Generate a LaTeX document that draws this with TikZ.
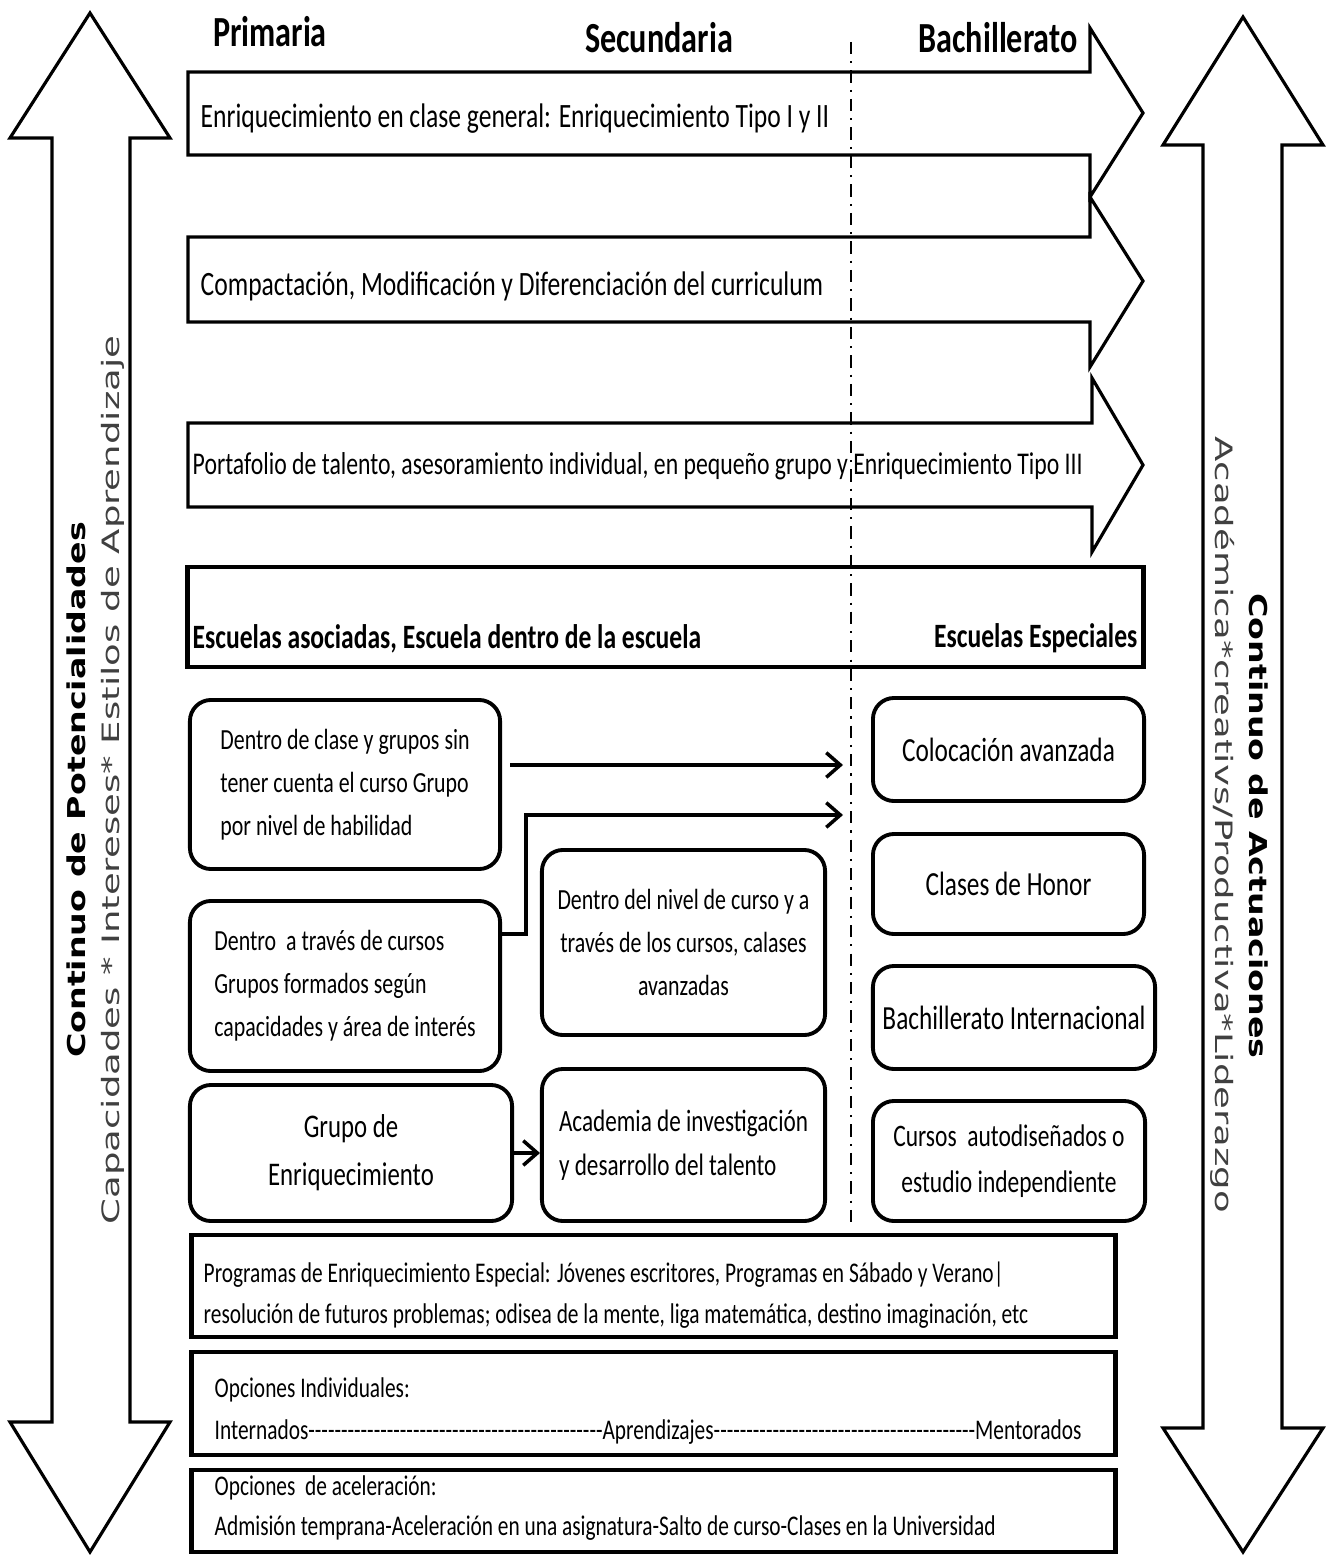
\documentclass[tikz,border=0pt]{standalone}
\usepackage{fontspec}
\setmainfont[FakeStretch=0.75,Ligatures=TeXOff]{Carlito}
\newfontfamily\sidefont[FakeStretch=1.35]{DejaVu Sans}
\newfontfamily\sidelight[FakeStretch=1.55]{DejaVu Sans}
\usetikzlibrary{arrows.meta}

\begin{document}
\begin{tikzpicture}[x=0.01cm,y=-0.01cm,
  outline/.style={draw=black,line width=0.9pt,fill=white,line join=miter},
  band/.style={draw=black,line width=1.3pt,inner sep=0pt},
  levelbox/.style={draw=black,line width=1.1pt,rounded corners=6pt,align=center,inner sep=0pt,font=\fontsize{8.3}{12.2}\selectfont},
  header/.style={anchor=base,inner sep=0pt,font=\bfseries\fontsize{12.2}{14}\selectfont},
  rowtext/.style={anchor=base west,inner sep=0pt,font=\fontsize{9.7}{12}\selectfont},
  bandtext/.style={anchor=base west,inner sep=0pt,font=\fontsize{8.1}{12}\selectfont},
  sidemain/.style={inner sep=0pt,font=\sidefont\bfseries\fontsize{7}{8}\selectfont},
  sidesub/.style={inner sep=0pt,text=black!75,font=\sidelight\fontsize{6.8}{8}\selectfont},
  link/.style={line width=1pt,-{Straight Barb[length=4pt,width=7pt,line width=1pt]}}]
\useasboundingbox (0,0) rectangle (1328,1555);

\draw[outline] (90,13) -- (170,138) -- (130,138) -- (130,1422) -- (170,1422) -- (90,1552)
  -- (10,1422) -- (52,1422) -- (52,138) -- (10,138) -- cycle;
\draw[outline] (1243,17) -- (1323,145) -- (1282,145) -- (1282,1428) -- (1323,1428) -- (1243,1552)
  -- (1163,1428) -- (1203,1428) -- (1203,145) -- (1163,145) -- cycle;

\draw[outline] (188,72) -- (1090,72) -- (1090,28) -- (1143,113) -- (1090,197) -- (1090,155) -- (188,155) -- cycle;
\draw[outline] (188,237) -- (1090,237) -- (1090,197) -- (1143,281) -- (1090,367) -- (1090,322) -- (188,322) -- cycle;
\draw[outline] (188,423) -- (1092,423) -- (1092,378) -- (1143,465) -- (1092,552) -- (1092,507) -- (188,507) -- cycle;

\node[band,minimum width=9.55cm,minimum height=1cm] (escuelas) at (665.5,617) {};

\draw[line width=0.6pt,dash pattern=on 3.5pt off 2pt on 0.6pt off 2pt] (851,42) -- (851,1222);

\node[header] (primaria) at (270,47) {Primaria};
\node[header] (secundaria) at (659,53) {Secundaria};
\node[header] (bachillerato) at (998,53) {Bachillerato};

\node[rowtext] (tipouno) at (200,128) {Enriquecimiento en clase general: Enriquecimiento Tipo I y II};
\node[rowtext] (compacta) at (200,296) {Compactación, Modificación y Diferenciación del curriculum};
\node[rowtext,font=\fontsize{9}{12}\selectfont] (portafolio) at (192,475) {Portafolio de talento, asesoramiento individual, en pequeño grupo y Enriquecimiento Tipo III};
\node[rowtext,font=\bfseries\fontsize{9.7}{12}\selectfont] (asociadas) at (192,648) {Escuelas asociadas, Escuela dentro de la escuela};
\node[rowtext,anchor=base east,font=\bfseries\fontsize{9.7}{12}\selectfont] (especiales) at (1138,647) {Escuelas Especiales};

\node[sidemain,rotate=90] (potencial) at (76,790) {Continuo de Potencialidades};
\node[sidesub,rotate=90] (capacidades) at (113,780) {Capacidades * Intereses* Estilos de Aprendizaje};
\node[sidemain,rotate=-90] (actuacion) at (1259,826) {Continuo de Actuaciones};
\node[sidesub,rotate=-90] (academica) at (1223,825) {Académica*creativs/Productiva*Liderazgo};

\node[levelbox,align=left,minimum width=3.1cm,minimum height=1.69cm] (clase) at (345,784.5) {Dentro de clase y grupos sin\\tener cuenta el curso Grupo\\por nivel de habilidad};
\node[levelbox,align=left,minimum width=3.1cm,minimum height=1.7cm] (cursos) at (345,986) {Dentro\ \ a través de cursos\\Grupos formados según\\capacidades y área de interés};
\node[levelbox,minimum width=3.22cm,minimum height=1.36cm,font=\fontsize{9.4}{13.7}\selectfont] (grupo) at (351,1153) {Grupo de\\Enriquecimiento};
\node[levelbox,minimum width=2.83cm,minimum height=1.85cm] (nivel) at (683.5,942.5) {Dentro del nivel de curso y a\\través de los cursos, calases\\avanzadas};
\node[levelbox,align=left,minimum width=2.83cm,minimum height=1.52cm,font=\fontsize{8.8}{12.5}\selectfont] (academia) at (683.5,1145) {Academia de investigación\\y desarrollo del talento};

\node[levelbox,minimum width=2.71cm,minimum height=1.03cm,font=\fontsize{9.6}{12}\selectfont] (colocacion) at (1008.5,749.5) {Colocación avanzada};
\node[levelbox,minimum width=2.71cm,minimum height=1cm,font=\fontsize{9.6}{12}\selectfont] (honor) at (1008.5,884) {Clases de Honor};
\node[levelbox,minimum width=2.82cm,minimum height=1.03cm,font=\fontsize{9.6}{12}\selectfont] (internacional) at (1014,1017.5) {Bachillerato Internacional};
\node[levelbox,minimum width=2.72cm,minimum height=1.2cm,font=\fontsize{8.9}{13}\selectfont] (autodisenados) at (1009,1161) {Cursos\ \ autodiseñados o\\estudio independiente};

\coordinate (fromclase) at (510,765);
\coordinate (toadv1) at (843,765);
\coordinate (fromcursos) at (500,934);
\coordinate (toadv2) at (843,815);
\draw[link] (fromclase) -- (toadv1);
\draw[link] (fromcursos) -- ++(26,0) |- (toadv2);
\draw[link] (grupo.east) -- (grupo.east -| academia.west);

\node[band,minimum width=9.23cm,minimum height=1.02cm] (programas) at (653.5,1286) {};
\node[bandtext] (programasa) at (203,1282) {Programas de Enriquecimiento Especial: Jóvenes escritores, Programas en Sábado y Verano|};
\node[bandtext] (programasb) at (203,1323) {resolución de futuros problemas; odisea de la mente, liga matemática, destino imaginación, etc};

\node[band,minimum width=9.23cm,minimum height=1.03cm] (individuales) at (653.5,1403.5) {};
\node[bandtext] (individualesa) at (214,1397) {Opciones Individuales:};
\node[bandtext] (individualesb) at (214,1439) {Internados---------------------------------------------Aprendizajes----------------------------------------Mentorados};

\node[band,minimum width=9.23cm,minimum height=0.82cm] (aceleracion) at (653.5,1511) {};
\node[bandtext] (aceleraciona) at (214,1495) {Opciones\ \ de aceleración:};
\node[bandtext] (aceleracionb) at (214,1535) {Admisión temprana-Aceleración en una asignatura-Salto de curso-Clases en la Universidad};
\end{tikzpicture}
\end{document}
